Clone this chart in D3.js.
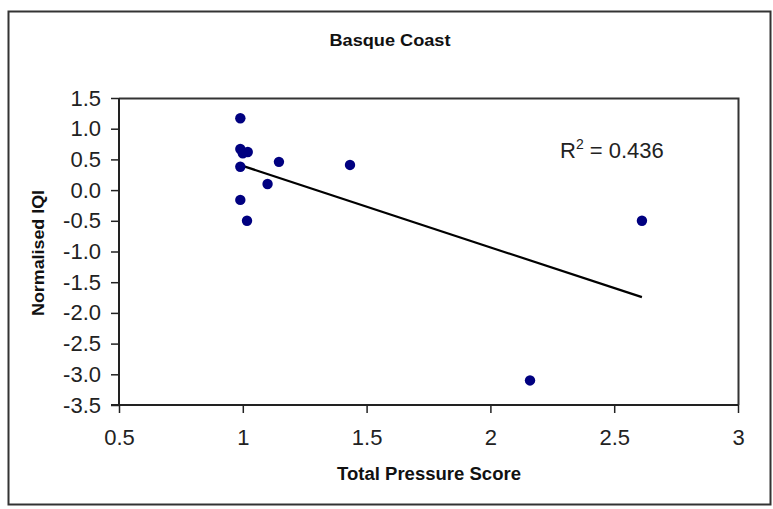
<!DOCTYPE html>
<html>
<head>
<meta charset="utf-8">
<script src="https://cdn.jsdelivr.net/npm/d3@7"></script>
<style>
  html, body { margin: 0; padding: 0; background: #fff; }
  svg { display: block; font-family: "Liberation Sans", Arial, sans-serif; }
</style>
</head>
<body>
<svg id="chart" width="773" height="509"></svg>
<script>
// Basque Coast sites: pressure score vs normalised IQI
const pressureScore = [0.99, 0.99, 1.02, 1.00, 0.99, 1.146, 1.433, 1.10, 0.99, 1.017, 2.16, 2.612];
const normalisedIQI = [1.17, 0.67, 0.62, 0.60, 0.38, 0.46, 0.41, 0.10, -0.16, -0.50, -3.10, -0.50];
const xTicks = [0.5, 1, 1.5, 2, 2.5, 3];
const yTicks = [1.5, 1.0, 0.5, 0.0, -0.5, -1.0, -1.5, -2.0, -2.5, -3.0, -3.5];
const chartTitle = "Basque Coast";
const xTitle = "Total Pressure Score";
const yTitle = "Normalised IQI";
const r2Label = "0.436";

const svg = d3.select("#chart");
const plot = { left: 119, right: 738, top: 98, bottom: 405 };

const x = d3.scaleLinear().domain([0.5, 3]).range([plot.left, plot.right]);
const y = d3.scaleLinear().domain([-3.5, 1.5]).range([plot.bottom, plot.top]);

// outer chart border
svg.append("rect")
  .attr("x", 8.5).attr("y", 11.5).attr("width", 762).attr("height", 493)
  .attr("fill", "#fff").attr("stroke", "#333").attr("stroke-width", 2);

// plot area frame (top and right edges)
svg.append("path")
  .attr("d", `M${plot.left},${plot.top + 0.5}H${plot.right + 0.5}V${plot.bottom}`)
  .attr("fill", "none").attr("stroke", "#333").attr("stroke-width", 2);

// axes; hyphen-minus for negative labels
const hyphen = f => d => f(d).replace("\u2212", "-");
const xAxis = d3.axisBottom(x).tickValues(xTicks).tickSize(8).tickPadding(16)
  .tickFormat(hyphen(d3.format("~g")));
const yAxis = d3.axisLeft(y).tickValues(yTicks).tickSize(8).tickPadding(10)
  .tickFormat(hyphen(d3.format(".1f")));

const gx = svg.append("g").attr("transform", `translate(0,${plot.bottom})`).call(xAxis);
const gy = svg.append("g").attr("transform", `translate(${plot.left},0)`).call(yAxis);

[gx, gy].forEach(g => {
  g.attr("font-size", 22).attr("font-family", "'Liberation Sans', Arial, sans-serif");
  g.select(".domain").attr("stroke", "#222").attr("stroke-width", 2);
  g.selectAll(".tick line").attr("stroke", "#222").attr("stroke-width", 1.5);
  g.selectAll(".tick text").attr("fill", "#222").style("font-size", "22px");
});
gy.select(".domain").attr("d", `M-8,${plot.bottom}H0V${plot.top}`);
gx.select(".domain").attr("d", `M${plot.left},0H${plot.right}`);

// linear trend line (least squares) across the data range
const mx = d3.mean(pressureScore), my = d3.mean(normalisedIQI);
let sxy = 0, sxx = 0;
pressureScore.forEach((v, i) => {
  sxy += (v - mx) * (normalisedIQI[i] - my);
  sxx += (v - mx) * (v - mx);
});
const slope = sxy / sxx;
const intercept = my - slope * mx;
const [xmin, xmax] = d3.extent(pressureScore);
svg.append("line")
  .attr("x1", x(xmin)).attr("y1", y(intercept + slope * xmin))
  .attr("x2", x(xmax)).attr("y2", y(intercept + slope * xmax))
  .attr("stroke", "#000").attr("stroke-width", 2.2);

// data points
svg.append("g").selectAll("circle")
  .data(pressureScore.map((v, i) => [v, normalisedIQI[i]]))
  .join("circle")
  .attr("cx", d => x(d[0])).attr("cy", d => y(d[1]))
  .attr("r", 5.2).attr("fill", "#000080");

// titles
svg.append("text").attr("x", 390).attr("y", 46).attr("text-anchor", "middle")
  .attr("font-size", 17).attr("font-weight", "bold").attr("fill", "#111")
  .attr("textLength", 121).attr("lengthAdjust", "spacingAndGlyphs")
  .text(chartTitle);

svg.append("text").attr("x", 429).attr("y", 480).attr("text-anchor", "middle")
  .attr("font-size", 18).attr("font-weight", "bold").attr("fill", "#111")
  .attr("textLength", 184).attr("lengthAdjust", "spacingAndGlyphs")
  .text(xTitle);

svg.append("text")
  .attr("transform", `translate(44,253) rotate(-90)`)
  .attr("text-anchor", "middle")
  .attr("font-size", 17).attr("font-weight", "bold").attr("fill", "#111")
  .attr("textLength", 126).attr("lengthAdjust", "spacingAndGlyphs")
  .text(yTitle);

// coefficient of determination label
const r2 = svg.append("text").attr("x", 560).attr("y", 158)
  .attr("font-size", 22).attr("fill", "#222");
r2.append("tspan").text("R");
r2.append("tspan").attr("dy", -9).attr("font-size", 14).text("2");
r2.append("tspan").attr("dy", 9).text(" = " + r2Label);
</script>
</body>
</html>
